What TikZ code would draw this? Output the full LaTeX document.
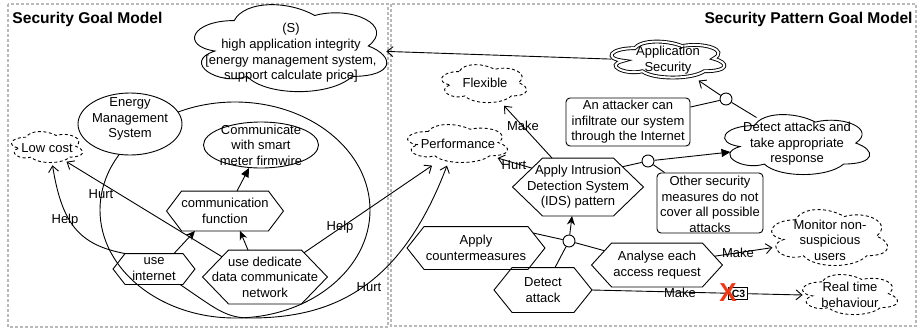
\documentclass[tikz,border=0pt]{standalone}
\usepackage{fontspec}
\setmainfont{Liberation Sans}
\usetikzlibrary{shapes.geometric,arrows.meta,calc}
\definecolor{xred}{RGB}{240,55,20}
\definecolor{panelgray}{RGB}{185,185,185}
\newcommand\hexnode[6]{%
  \node[hexbox, minimum width=#3pt, minimum height=#4pt] (#1) at (#2) {};
  \coordinate (#1-nw) at ([xshift=#5pt]#1.north west);
  \coordinate (#1-ne) at ([xshift=-#5pt]#1.north east);
  \coordinate (#1-sw) at ([xshift=#5pt]#1.south west);
  \coordinate (#1-se) at ([xshift=-#5pt]#1.south east);
  \draw[hexline] (#1.west) -- (#1-nw) -- (#1-ne) -- (#1.east) -- (#1-se) -- (#1-sw) -- cycle;
  \node[txt] (#1-t) at (#1) {#6};}
\newcommand\cloudnode[5]{%
  \node[hexbox, minimum width=#3pt, minimum height=#4pt] (#1) at (#2) {};
  \draw[#5, shift={(#1.north west)}, x=#3pt, y=-#4pt] (0.25,0.25)
    .. controls (0.05,0.25) and (0,0.5) .. (0.16,0.55)
    .. controls (0,0.66) and (0.18,0.9) .. (0.31,0.8)
    .. controls (0.4,1) and (0.7,1) .. (0.8,0.8)
    .. controls (1,0.8) and (1,0.6) .. (0.875,0.5)
    .. controls (1,0.3) and (0.8,0.1) .. (0.625,0.2)
    .. controls (0.5,0.05) and (0.3,0.05) .. (0.25,0.25) -- cycle;}
\begin{document}
\begin{tikzpicture}[x=1pt,y=-1pt,line width=0.9pt,
  txt/.style={align=center,inner sep=0pt,font=\fontsize{13}{15.6}\selectfont},
  lbl/.style={inner sep=0pt,font=\fontsize{13}{15.6}\selectfont},
  ttl/.style={inner sep=0pt,font=\bfseries\fontsize{15.6}{18}\selectfont},
  cline/.style={draw,fill=white},
  dcline/.style={cline,dash pattern=on 3pt off 2.5pt},
  ell/.style={ellipse,draw,fill=white,inner sep=0pt},
  rbox/.style={rectangle,rounded corners=4pt,draw,fill=white,inner sep=0pt},
  hexbox/.style={rectangle,inner sep=0pt,draw=none},
  hexline/.style={draw},
  circ/.style={circle,draw,fill=white,inner sep=0pt,minimum size=12pt},
  panel/.style={draw=panelgray,dash pattern=on 3pt off 2pt,line width=1.2pt},
  openarr/.style={-{Straight Barb[length=6pt,width=10pt]}},
  decarr/.style={-{Stealth[length=9pt,width=8pt,inset=3pt]}},
  filledarr/.style={-{Triangle[length=9pt,width=8pt]}}]
\useasboundingbox (0,0) rectangle (918,330);
% panels
\draw[panel] (8,4) rectangle (388,327);
\draw[panel] (391,4) rectangle (916,326);
\node[ttl,anchor=west] (t1) at (12,19) {Security Goal Model};
\node[ttl,anchor=east] (t2) at (913,19) {Security Pattern Goal Model};
% left model
\node[ell,fill=none,minimum width=270pt,minimum height=216pt] (bigE) at (235,210) {};
\cloudnode{hai}{288.3,46.4}{214.5}{101.5}{cline}
\node[txt] (hai-t) at (291,53) {(S)\\high application integrity\\{}[energy management system,\\support calculate price]};
\node[ell,minimum width=104pt,minimum height=62pt] (ems) at (130,124) {};
\node[txt] (ems-t) at (130,119) {Energy\\Management\\System};
\node[ell,minimum width=115pt,minimum height=46pt] (comm) at (261,145) {};
\node[txt] (comm-t) at (261,145) {Communicate\\with smart\\meter firmwire};
\cloudnode{lc}{46.5,146.7}{79.3}{36.2}{dcline}
\node[txt] (lc-t) at (47,148) {Low cost};
\hexnode{cf}{225,211}{116}{39}{15}{communication\\function}
\hexnode{ui}{154,269}{81}{30}{12}{use\\internet}
\hexnode{ud}{265,277}{124}{53}{26}{use dedicate\\data communicate\\network}
% right model
\cloudnode{as}{666.8,59.1}{126}{42}{cline,double,double distance=2pt}
\node[txt] (as-t) at (668,60) {Application\\Security};
\cloudnode{flex}{483.3,83.1}{95}{44.3}{dcline}
\node[txt] (flex-t) at (485,83) {Flexible};
\cloudnode{perf}{456.6,143}{111.7}{44.3}{dcline}
\node[txt] (perf-t) at (458,144) {Performance};
\node[rbox,minimum width=124pt,minimum height=48pt] (att) at (628,122) {};
\node[txt] (att-t) at (628,122) {An attacker can\\infiltrate our system\\through the Internet};
\node[circ] (c1) at (726,99) {};
\cloudnode{dar}{795.5,143.5}{162}{70}{cline}
\node[txt] (dar-t) at (797,144) {Detect attacks and\\take appropriate\\response};
\hexnode{ids}{578,187}{130}{57}{30}{Apply Intrusion\\Detection System\\(IDS) pattern}
\node[circ] (c2) at (648,161) {};
\node[rbox,minimum width=106pt,minimum height=60pt] (osm) at (710,203) {};
\node[txt] (osm-t) at (710,204.5) {Other security\\measures do not\\cover all possible\\attacks};
\cloudnode{mon}{828.4,236.6}{129.6}{65.3}{dcline}
\node[txt] (mon-t) at (830,240) {Monitor non-\\suspicious\\users};
\cloudnode{rt}{849.1,294}{106}{46.7}{dcline}
\node[txt] (rt-t) at (850,295) {Real time\\behaviour};
\hexnode{acm}{476,248}{137}{42}{17}{Apply\\countermeasures}
\node[circ] (c3) at (569,241) {};
\hexnode{aar}{657,265}{130}{43}{20}{Analyse each\\access request}
\hexnode{da}{543,290}{97}{44}{18}{Detect\\attack}
% connectors right
\draw[openarr] ([xshift=8pt]as.west) -- ($(hai)+(98,5)$);
\draw[openarr] (c1) -- (as);
\draw ([yshift=15pt]att.east) -- (c1);
\draw ($(dar)+(-39,-26)$) -- (c1);
\draw ($(ids-ne)!0.3!(ids.east)$) -- (c2);
\draw[filledarr] (c2) -- ($(dar)+(-65,8.5)$);
\draw (c2) -- ([xshift=8pt]osm.north west);
\draw[decarr] (c3) -- ($(ids.south)+(-6,0)$);
\draw ($(acm-ne)!0.3!(acm.east)$) -- (c3);
\draw ($(aar-nw)!0.35!(aar.west)$) -- (c3);
\draw ([xshift=12pt]da.north) -- (c3);
\draw[openarr] ($(aar-ne)!0.6!(aar.east)$) -- ($(mon)+(-56,11)$);
\node[lbl] (l1) at (738,253) {Make};
\draw[openarr] (da.east) -- ($(rt.west)+(7,1)$);
\node[lbl] (l2) at (680,293) {Make};
\draw[openarr] ([xshift=-26pt]ids.north) -- (flex);
\node[lbl] (l3) at (523,126) {Make};
\draw[openarr] ($(ids-nw)!0.35!(ids.west)$) -- ($(perf)+(41,15)$);
\node[lbl] (l4) at (514,165) {Hurt};
% connectors left
\draw[openarr] (ui-nw) .. controls (80,245) and (62,225) .. ($(lc.south)+(6,0)$);
\node[lbl] (l5) at (65,220) {Help};
\draw[openarr] ($(ud-nw)!0.25!(ud.west)$) -- ($(lc)+(20,15)$);
\node[lbl] (l6) at (101,194) {Hurt};
\draw[openarr] ($(ud-ne)!0.1!(ud.east)$) -- ($(perf.south)+(-24.6,0)$);
\node[lbl] (l7) at (340,227) {Help};
\draw[openarr] ([xshift=-3pt]ui-se) .. controls (215,308) and (225,318) .. (250,318) .. controls (330,318) and (400,290) .. ($(perf.south)+(-9.6,0)$);
\node[lbl] (l8) at (369,287) {Hurt};
\draw[decarr] ([xshift=-21pt]ui.north east) -- ([xshift=-30pt]cf.south);
\draw[decarr] ([xshift=-17pt]ud.north) -- ([xshift=15pt]cf.south);
\draw[filledarr] ([xshift=12pt]cf.north) -- (comm);
% conflict marker
\node[draw,fill=white,line width=0.8pt,inner sep=0pt,minimum width=19pt,minimum height=11.5pt,font=\bfseries\fontsize{10.5}{10.5}\selectfont] (c3box) at (737.5,293.5) {\hspace{2pt}C3};
\node[inner sep=0pt,text=xred,font=\bfseries\fontsize{26}{26}\selectfont] (xmark) at (728,293) {X};
\end{tikzpicture}
\end{document}
